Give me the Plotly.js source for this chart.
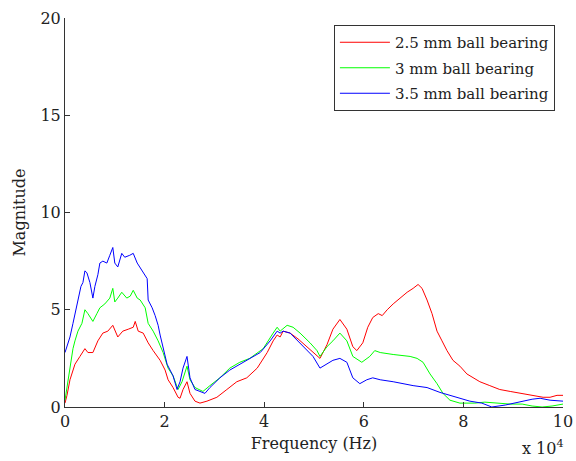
<!DOCTYPE html>
<html>
<head>
<meta charset="utf-8">
<script src="https://cdn.plot.ly/plotly-3.0.1.min.js"></script>
<style>
  html, body { margin: 0; padding: 0; background: #fff; }
  #chart { width: 576px; height: 461px; }
</style>
</head>
<body>
<div id="chart"></div>
<script>
// Frequency values are in units of 10^4 Hz (the axis carries the "x 10^4" multiplier).

// 2.5 mm ball bearing
const freq25 = [0, 0.04, 0.1, 0.2, 0.3, 0.4, 0.46, 0.56, 0.66, 0.76, 0.86, 0.96, 1.06, 1.16, 1.27, 1.37, 1.41, 1.47, 1.57, 1.67, 1.77, 1.91, 2.01, 2.07, 2.17, 2.27, 2.31, 2.37, 2.45, 2.51, 2.61, 2.71, 2.85, 3.05, 3.25, 3.45, 3.65, 3.86, 4.06, 4.18, 4.26, 4.32, 4.38, 4.52, 4.68, 4.86, 4.98, 5.12, 5.26, 5.38, 5.52, 5.66, 5.78, 5.86, 5.98, 6.08, 6.18, 6.29, 6.37, 6.47, 6.59, 6.73, 6.87, 6.99, 7.09, 7.17, 7.27, 7.37, 7.47, 7.57, 7.67, 7.79, 7.93, 8.07, 8.19, 8.33, 8.53, 8.73, 8.94, 9.14, 9.40, 9.60, 9.74, 9.88, 10.0];
const mag25  = [0.2, 0.6, 1.4, 2.2, 2.6, 3.0, 2.8, 2.8, 3.4, 3.8, 3.9, 4.2, 3.6, 3.9, 4.0, 4.1, 4.4, 3.9, 3.8, 3.3, 2.9, 2.4, 1.9, 1.4, 1.0, 0.5, 0.45, 0.9, 1.3, 0.7, 0.3, 0.2, 0.3, 0.5, 0.9, 1.3, 1.5, 2.0, 2.8, 3.4, 3.7, 3.6, 3.9, 3.8, 3.5, 3.1, 2.8, 2.5, 3.2, 4.0, 4.5, 4.0, 3.1, 2.9, 3.3, 4.1, 4.6, 4.8, 4.7, 5.0, 5.3, 5.6, 5.9, 6.1, 6.3, 6.1, 5.5, 4.8, 3.9, 3.4, 2.9, 2.4, 2.1, 1.7, 1.5, 1.3, 1.1, 0.9, 0.8, 0.7, 0.6, 0.5, 0.5, 0.6, 0.6];

// 3 mm ball bearing
const freq30 = [0, 0.04, 0.1, 0.16, 0.2, 0.26, 0.34, 0.4, 0.46, 0.56, 0.64, 0.7, 0.8, 0.9, 0.96, 1.0, 1.06, 1.14, 1.24, 1.31, 1.37, 1.45, 1.51, 1.61, 1.67, 1.77, 1.87, 1.97, 2.07, 2.17, 2.27, 2.35, 2.45, 2.51, 2.61, 2.77, 2.91, 3.11, 3.31, 3.51, 3.71, 3.98, 4.18, 4.26, 4.32, 4.46, 4.58, 4.72, 4.92, 5.06, 5.12, 5.26, 5.38, 5.52, 5.66, 5.78, 5.96, 6.12, 6.22, 6.33, 6.59, 6.93, 7.07, 7.19, 7.33, 7.47, 7.59, 7.73, 7.93, 8.23, 8.43, 8.63, 8.94, 9.18, 9.38, 9.58, 9.78, 10.0];
const mag30  = [0.35, 1.0, 2.2, 3.0, 3.4, 3.9, 4.3, 5.0, 4.8, 4.4, 4.8, 5.1, 5.3, 5.6, 6.1, 5.4, 5.6, 5.9, 5.6, 5.7, 6.0, 5.6, 5.5, 5.1, 4.3, 3.9, 3.4, 2.8, 2.0, 1.6, 0.9, 1.3, 2.1, 1.4, 1.0, 0.8, 1.1, 1.5, 2.0, 2.3, 2.5, 3.0, 3.8, 4.1, 3.9, 4.2, 4.1, 3.8, 3.3, 2.9, 2.6, 3.1, 3.4, 3.8, 3.4, 2.6, 2.3, 2.6, 2.9, 2.8, 2.7, 2.6, 2.5, 2.3, 1.7, 1.2, 0.7, 0.35, 0.2, 0.2, 0.25, 0.2, 0.15, 0.15, 0.05, 0.0, 0.05, 0.15];

// 3.5 mm ball bearing
const freq35 = [0, 0.04, 0.1, 0.16, 0.2, 0.26, 0.32, 0.36, 0.4, 0.44, 0.5, 0.56, 0.6, 0.66, 0.7, 0.76, 0.84, 0.9, 0.96, 1.0, 1.06, 1.14, 1.2, 1.3, 1.37, 1.45, 1.55, 1.65, 1.67, 1.75, 1.81, 1.87, 1.91, 1.97, 2.05, 2.11, 2.17, 2.25, 2.31, 2.37, 2.45, 2.51, 2.61, 2.71, 2.81, 2.91, 3.11, 3.31, 3.51, 3.71, 3.92, 4.12, 4.26, 4.32, 4.38, 4.52, 4.68, 4.86, 4.98, 5.12, 5.26, 5.38, 5.52, 5.66, 5.78, 5.92, 6.06, 6.18, 6.33, 6.59, 6.99, 7.27, 7.53, 7.73, 7.93, 8.13, 8.37, 8.57, 8.84, 9.10, 9.38, 9.54, 9.74, 10.0];
const mag35  = [2.8, 3.1, 3.6, 4.3, 4.8, 5.6, 6.2, 6.4, 7.0, 6.9, 6.4, 5.6, 6.2, 6.8, 7.4, 7.5, 7.4, 7.8, 8.2, 7.4, 7.2, 7.9, 7.7, 7.8, 7.9, 7.4, 7.0, 6.6, 5.5, 5.1, 4.7, 4.2, 3.7, 3.0, 2.2, 1.9, 1.6, 0.9, 1.3, 2.0, 2.6, 1.5, 0.9, 0.8, 0.7, 1.0, 1.5, 1.9, 2.2, 2.5, 2.8, 3.4, 3.9, 3.8, 3.9, 3.8, 3.4, 2.9, 2.6, 2.0, 2.2, 2.4, 2.5, 2.3, 1.5, 1.2, 1.4, 1.5, 1.4, 1.3, 1.1, 1.0, 0.75, 0.6, 0.45, 0.3, 0.2, 0.0, 0.1, 0.25, 0.4, 0.45, 0.35, 0.3];

const seriesNames = ['2.5 mm ball bearing', '3 mm ball bearing', '3.5 mm ball bearing'];
const xTickVals = [0, 2, 4, 6, 8, 10];
const xTickText = ['0', '2', '4', '6', '8', '10'];
const yTickVals = [0, 5, 10, 15, 20];

const INK = '#222';
const FONT = 'DejaVu Serif';
const SIZE = 16;
const LEGEND_SIZE = 15;

const traces = [
  { x: freq25, y: mag25, name: seriesNames[0], legendgroup: 'g1', type: 'scatter', mode: 'lines',
    line: { color: '#ff0000', width: 1 } },
  { x: freq30, y: mag30, name: seriesNames[1], legendgroup: 'g2', type: 'scatter', mode: 'lines',
    line: { color: '#00ff00', width: 1 } },
  { x: freq35, y: mag35, name: seriesNames[2], legendgroup: 'g3', type: 'scatter', mode: 'lines',
    line: { color: '#0000ff', width: 1 } }
];

const layout = {
  width: 576,
  height: 461,
  margin: { l: 65, r: 13, t: 18, b: 54, autoexpand: false },
  paper_bgcolor: '#fff',
  plot_bgcolor: '#fff',
  font: { family: FONT, size: SIZE, color: INK },
  showlegend: true,
  legend: {
    x: 0.54, y: 0.982, xanchor: 'left', yanchor: 'top',
    bgcolor: '#fff', bordercolor: '#333', borderwidth: 1,
    font: { family: FONT, size: LEGEND_SIZE, color: INK },
    itemwidth: 50,
    traceorder: 'grouped',
    tracegroupgap: 3
  },
  xaxis: {
    range: [0, 10],
    tickmode: 'array', tickvals: xTickVals, ticktext: xTickText,
    ticks: 'inside', ticklen: 5, tickcolor: '#333',
    showline: true, linecolor: '#333', linewidth: 1, mirror: false,
    showgrid: false, zeroline: false,
    tickfont: { family: FONT, size: SIZE, color: INK },
    title: { text: 'Frequency (Hz)', font: { family: FONT, size: SIZE, color: INK }, standoff: 7 }
  },
  yaxis: {
    range: [0, 20],
    tickmode: 'array', tickvals: yTickVals,
    ticks: 'inside', ticklen: 5, tickcolor: '#333',
    showline: true, linecolor: '#333', linewidth: 1, mirror: false,
    showgrid: false, zeroline: false,
    tickfont: { family: FONT, size: SIZE, color: INK },
    title: { text: 'Magnitude', font: { family: FONT, size: SIZE, color: INK }, standoff: 10 }
  },
  annotations: [
    { xref: 'paper', yref: 'paper', x: 0.914, y: -0.137, xanchor: 'left', yanchor: 'bottom',
      text: 'x 10<sup>4</sup>', showarrow: false,
      font: { family: FONT, size: 16, color: INK } }
  ]
};

Plotly.newPlot('chart', traces, layout, { displayModeBar: false, staticPlot: true });
</script>
</body>
</html>
